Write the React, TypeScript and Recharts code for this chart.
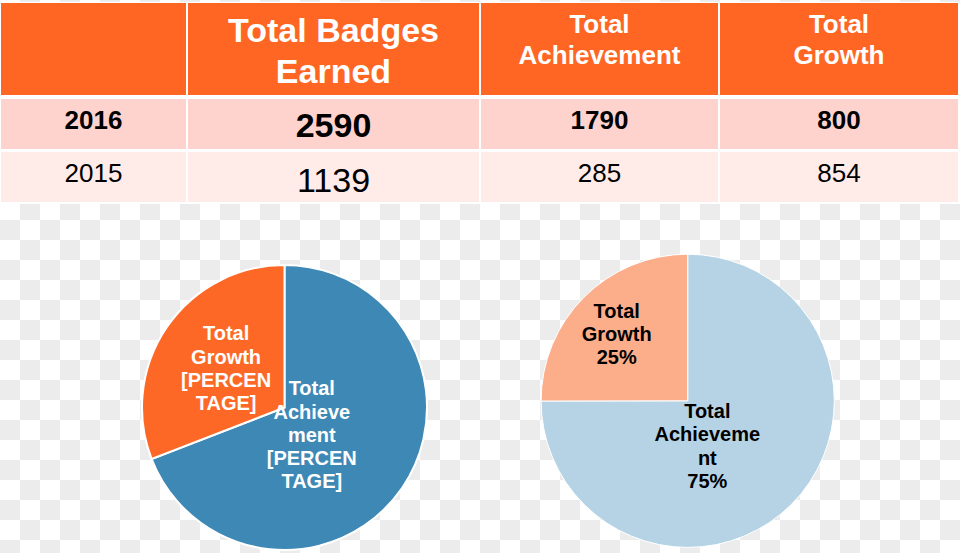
import React from 'react';
import { PieChart, Pie, Cell } from 'recharts';

// ---------- data ----------
const headerLines: string[][] = [[], ['Total Badges', 'Earned'], ['Total', 'Achievement'], ['Total', 'Growth']];
const years = ['2016', '2015'];
const totalBadges = [2590, 1139];
const totalAchievement = [1790, 285];
const totalGrowth = [800, 854];

const pieNames = ['Total Achievement', 'Total Growth'];
// 2016 pie
const pie2016Values = [1790, 800];
const pie2016Labels: string[][] = [
  ['Total', 'Achieve', 'ment', '[PERCEN', 'TAGE]'],
  ['Total', 'Growth', '[PERCEN', 'TAGE]'],
];
// 2015 pie (as drawn in the picture)
const pie2015Values = [854, 285];
const pie2015Labels: string[][] = [
  ['Total', 'Achieveme', 'nt'],
  ['Total', 'Growth'],
];

// ---------- style ----------
const FONT = '"Liberation Sans", Arial, sans-serif';
const ORANGE = '#FF6624';
const ROW1 = '#FFD3CD';
const ROW2 = '#FFEBE8';
const colors2016 = ['#3E88B6', '#FE6826'];
const colors2015 = ['#B5D3E5', '#FCAE8B'];

const colX = [1, 188, 481, 720];
const colW = [185, 291, 237, 238];
const rowY = [3, 99, 152];
const rowH = [92, 50, 50];

const NO_MARGIN = { top: 0, right: 0, bottom: 0, left: 0 };

const labelCfg2016 = [
  { radius: 0.27, shift: -10.4 },
  { radius: 0.495, shift: 0.3 },
];
const labelCfg2015 = [
  { radius: 0.334, shift: -21.4 },
  { radius: 0.666, shift: 1.6 },
];

function makeLabel(lines: string[][], cfg: { radius: number; shift: number }[], color: string, withPercent: boolean) {
  return (props: any) => {
    const { cx, cy, midAngle, outerRadius, percent, index } = props;
    const c = cfg[index];
    const a = ((midAngle + c.shift) * Math.PI) / 180;
    const r = outerRadius * c.radius;
    const x = cx + r * Math.cos(a);
    const y = cy - r * Math.sin(a);
    const ls = withPercent ? [...lines[index], `${Math.round(percent * 100)}%`] : lines[index];
    const lh = 23.3;
    const first = y - ((ls.length - 1) * lh) / 2 + 7.2;
    return (
      <text fill={color} fontFamily={FONT} fontWeight="bold" fontSize={20} textAnchor="middle">
        {ls.map((l, i) => (
          <tspan key={i} x={x} y={first + i * lh}>
            {l}
          </tspan>
        ))}
      </text>
    );
  };
}

function Table() {
  const rows = years.map((y, i) => [y, String(totalBadges[i]), String(totalAchievement[i]), String(totalGrowth[i])]);
  const headerBase = [[0, 0], [41.7, 83], [33, 64], [33, 64]];
  const rowBase = [
    [129.3, 137.3, 129.3, 129.3],
    [181.7, 191.7, 181.7, 181.7],
  ];
  return (
    <svg width={960} height={205} style={{ position: 'absolute', left: 0, top: 0 }}>
      <rect x={0} y={2} width={960} height={202} fill="#fff" />
      {colX.map((x, c) => (
        <rect key={'h' + c} x={x} y={rowY[0]} width={colW[c]} height={rowH[0]} fill={ORANGE} />
      ))}
      {rows.map((row, r) =>
        colX.map((x, c) => (
          <rect key={'r' + r + c} x={x} y={rowY[r + 1]} width={colW[c]} height={rowH[r + 1]} fill={r === 0 ? ROW1 : ROW2} />
        ))
      )}
      {headerLines.map((lines, c) =>
        lines.map((l, i) => (
          <text
            key={'ht' + c + i}
            x={colX[c] + colW[c] / 2}
            y={headerBase[c][i]}
            textAnchor="middle"
            fill="#fff"
            fontFamily={FONT}
            fontWeight="bold"
            fontSize={c === 1 ? 34 : 26}
          >
            {l}
          </text>
        ))
      )}
      {rows.map((row, r) =>
        row.map((v, c) => (
          <text
            key={'t' + r + c}
            x={colX[c] + colW[c] / 2}
            y={rowBase[r][c]}
            textAnchor="middle"
            fill="#000"
            fontFamily={FONT}
            fontWeight={r === 0 ? 'bold' : 'normal'}
            fontSize={c === 1 ? 34 : 26}
          >
            {v}
          </text>
        ))
      )}
    </svg>
  );
}

export default function App() {
  const data2016 = pieNames.map((n, i) => ({ name: n, value: pie2016Values[i] }));
  const data2015 = pieNames.map((n, i) => ({ name: n, value: pie2015Values[i] }));
  return (
    <div
      style={{
        position: 'relative',
        width: 960,
        height: 553,
        overflow: 'hidden',
        backgroundColor: '#fff',
        backgroundImage: 'conic-gradient(#ececec 25%, #ffffff 0 50%, #ececec 0 75%, #ffffff 0)',
        backgroundSize: '40px 40px',
      }}
    >
      <style>{`body{margin:0}`}</style>
      <Table />
      <div style={{ position: 'absolute', left: 0, top: 250 }}>
        <PieChart width={480} height={303} margin={NO_MARGIN}>
          <Pie
            data={data2016}
            dataKey="value"
            nameKey="name"
            cx={284.5}
            cy={157.5}
            outerRadius={142.5}
            startAngle={90}
            endAngle={-270}
            stroke="#fff"
            strokeWidth={2}
            isAnimationActive={false}
            labelLine={false}
            label={makeLabel(pie2016Labels, labelCfg2016, '#fff', false)}
          >
            {data2016.map((d, i) => (
              <Cell key={d.name} fill={colors2016[i]} />
            ))}
          </Pie>
        </PieChart>
      </div>
      <div style={{ position: 'absolute', left: 480, top: 240 }}>
        <PieChart width={480} height={313} margin={NO_MARGIN}>
          <Pie
            data={data2015}
            dataKey="value"
            nameKey="name"
            cx={207.7}
            cy={160.8}
            outerRadius={146.6}
            startAngle={90}
            endAngle={-270}
            stroke="#fff"
            strokeWidth={1}
            isAnimationActive={false}
            labelLine={false}
            label={makeLabel(pie2015Labels, labelCfg2015, '#000', true)}
          >
            {data2015.map((d, i) => (
              <Cell key={d.name} fill={colors2015[i]} />
            ))}
          </Pie>
        </PieChart>
      </div>
    </div>
  );
}
